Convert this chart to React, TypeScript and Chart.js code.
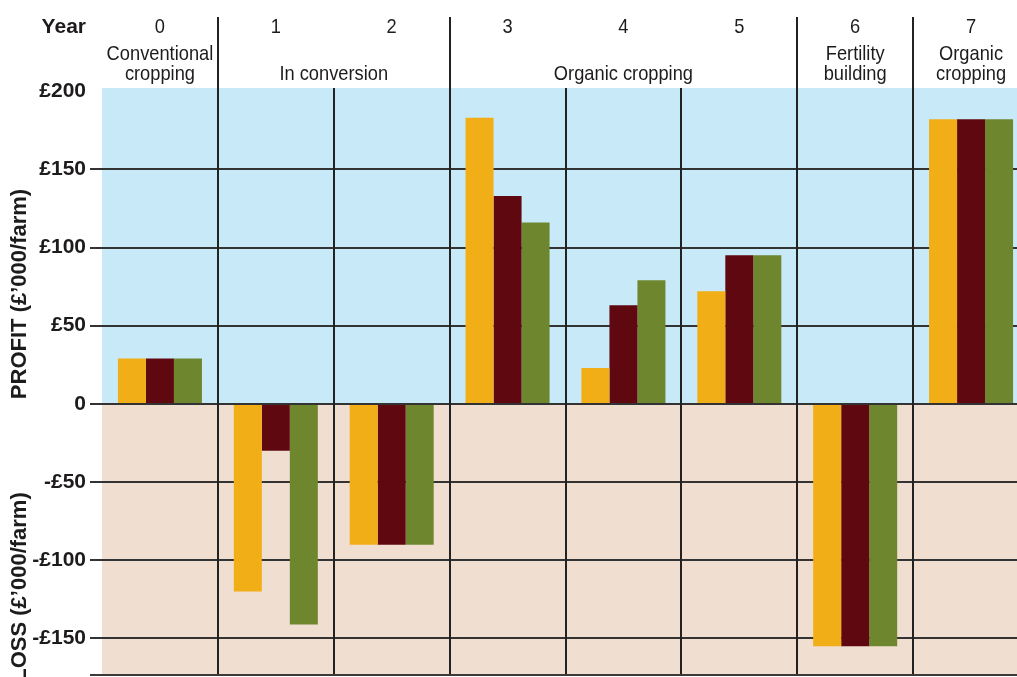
import React, { useEffect, useRef } from 'react';
import { Chart, registerables } from 'chart.js';

Chart.register(...registerables);

const years = ['0', '1', '2', '3', '4', '5', '6', '7'];
const seriesOrange = [29, -120, -90, 183, 23, 72, -155, 182];
const seriesMaroon = [29, -30, -90, 133, 63, 95, -155, 182];
const seriesGreen = [29, -141, -90, 116, 79, 95, -155, 182];
const yTicks = [-150, -100, -50, 0, 50, 100, 150, 200];
const phaseLabels = [
  { lines: ['Conventional', 'cropping'], from: 0, to: 0 },
  { lines: ['In conversion'], from: 1, to: 2 },
  { lines: ['Organic cropping'], from: 3, to: 5 },
  { lines: ['Fertility', 'building'], from: 6, to: 6 },
  { lines: ['Organic', 'cropping'], from: 7, to: 7 },
];
const profitTitle = 'PROFIT (£’000/farm)';
const lossTitle = 'LOSS (£’000/farm)';

const BLUE = '#c8e9f8';
const BEIGE = '#f0dfd1';
const ORANGE = '#f2ae16';
const MAROON = '#600810';
const GREEN = '#6e872e';
const TEXT = '#1e1b1c';
const FONT = "'Liberation Sans', Arial, Helvetica, sans-serif";

function narrowText(ctx: CanvasRenderingContext2D, text: string, cx: number, baseline: number, size: number) {
  ctx.save();
  ctx.translate(cx, baseline);
  ctx.scale(0.87, 1);
  ctx.font = `${size}px ${FONT}`;
  ctx.fillStyle = TEXT;
  ctx.textAlign = 'center';
  ctx.textBaseline = 'alphabetic';
  ctx.fillText(text, 0, 0);
  ctx.restore();
}

const decorPlugin = {
  id: 'decor',
  beforeDraw(chart: any) {
    const { ctx, chartArea: a, scales } = chart;
    const y0 = scales.y.getPixelForValue(0);
    ctx.save();
    ctx.fillStyle = BLUE;
    ctx.fillRect(a.left, a.top, a.right - a.left, y0 - a.top);
    ctx.fillStyle = BEIGE;
    ctx.fillRect(a.left, y0, a.right - a.left, a.bottom - y0);
    ctx.restore();
  },
  beforeDatasetsDraw(chart: any) {
    const { ctx, chartArea: a, scales } = chart;
    const xs = scales.x;
    const groupStarts = phaseLabels.map((p) => p.from);
    ctx.save();
    ctx.strokeStyle = '#222222';
    ctx.lineWidth = 2;
    for (let i = 1; i < years.length; i++) {
      const bx = Math.round((xs.getPixelForValue(i - 1) + xs.getPixelForValue(i)) / 2);
      const top = groupStarts.includes(i) ? 17 : a.top;
      ctx.beginPath();
      ctx.moveTo(bx, top);
      ctx.lineTo(bx, a.bottom);
      ctx.stroke();
    }
    ctx.strokeStyle = '#3a3a3a';
    ctx.beginPath();
    ctx.moveTo(a.left - 12, a.bottom - 1);
    ctx.lineTo(a.right, a.bottom - 1);
    ctx.stroke();
    ctx.restore();
  },
  afterDraw(chart: any) {
    const { ctx, scales } = chart;
    const xs = scales.x;
    ctx.save();
    ctx.font = `bold 21px ${FONT}`;
    ctx.fillStyle = TEXT;
    ctx.textAlign = 'right';
    ctx.textBaseline = 'alphabetic';
    ctx.fillText('Year', 86, 33);
    years.forEach((y, i) => {
      narrowText(ctx, y, xs.getPixelForValue(i), 33, 21);
    });
    phaseLabels.forEach((p) => {
      const cx = (xs.getPixelForValue(p.from) + xs.getPixelForValue(p.to)) / 2;
      if (p.lines.length === 1) {
        narrowText(ctx, p.lines[0], cx, 80, 21);
      } else {
        narrowText(ctx, p.lines[0], cx, 60, 21);
        narrowText(ctx, p.lines[1], cx, 80, 21);
      }
    });
    ctx.font = `bold 22px ${FONT}`;
    ctx.fillStyle = TEXT;
    ctx.textAlign = 'center';
    ctx.textBaseline = 'middle';
    ctx.save();
    ctx.translate(20, 294);
    ctx.rotate(-Math.PI / 2);
    ctx.fillText(profitTitle, 0, 0);
    ctx.restore();
    ctx.save();
    ctx.translate(20, 587);
    ctx.rotate(-Math.PI / 2);
    ctx.fillText(lossTitle, 0, 0);
    ctx.restore();
    ctx.restore();
  },
};

export default function App() {
  const canvasRef = useRef<HTMLCanvasElement | null>(null);

  useEffect(() => {
    if (!canvasRef.current) return;
    const chart = new Chart(canvasRef.current, {
      type: 'bar',
      data: {
        labels: years,
        datasets: [
          { label: 'A', data: seriesOrange, backgroundColor: ORANGE },
          { label: 'B', data: seriesMaroon, backgroundColor: MAROON },
          { label: 'C', data: seriesGreen, backgroundColor: GREEN },
        ],
      },
      options: {
        responsive: false,
        maintainAspectRatio: false,
        animation: false,
        datasets: {
          bar: { barPercentage: 1, categoryPercentage: 0.725, borderWidth: 0 },
        },
        layout: { padding: { top: 88, bottom: 1, left: 0, right: 1 } },
        plugins: {
          legend: { display: false },
          tooltip: { enabled: false },
          title: { display: false },
        },
        scales: {
          x: { display: false, offset: true, grid: { display: false } },
          y: {
            min: -174,
            max: 202,
            afterBuildTicks: (s: any) => {
              s.ticks = yTicks.map((v) => ({ value: v }));
            },
            afterFit: (s: any) => {
              s.width = 102;
              s.paddingTop = 0;
              s.paddingBottom = 0;
            },
            border: { display: false },
            grid: {
              color: (c: any) => (c.tick && c.tick.value === 200 ? 'rgba(0,0,0,0)' : '#333333'),
              lineWidth: 2,
              tickLength: 12,
              drawTicks: true,
            },
            ticks: {
              padding: 4,
              color: TEXT,
              font: { family: FONT, weight: 'bold', size: 21 },
              callback: (v: any) => {
                const n = Number(v);
                if (n === 0) return '0';
                return n < 0 ? `-£${Math.abs(n)}` : `£${n}`;
              },
            },
          },
        },
      },
      plugins: [decorPlugin],
    } as any);
    return () => chart.destroy();
  }, []);

  return (
    <div
      style={{
        position: 'fixed',
        left: 0,
        top: 0,
        width: 1017,
        height: 677,
        overflow: 'hidden',
        background: '#ffffff',
      }}
    >
      <canvas ref={canvasRef} width={1030} height={677} style={{ width: 1030, height: 677, display: 'block' }} />
    </div>
  );
}
